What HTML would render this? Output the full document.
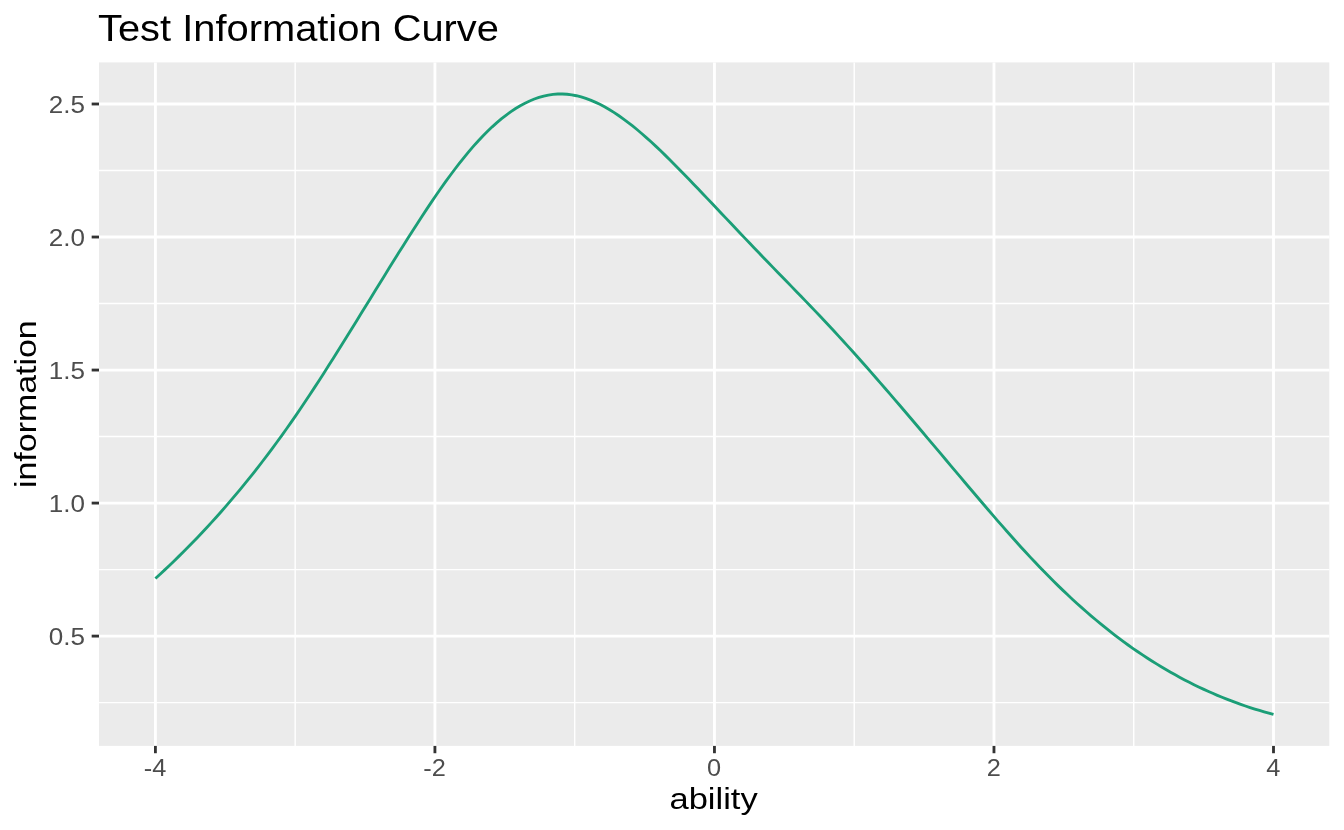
<!DOCTYPE html>
<html><head><meta charset="utf-8"><style>
html,body{margin:0;padding:0;background:#fff;}
body{width:1344px;height:830px;overflow:hidden;}
svg{display:block;will-change:transform;}
text{font-family:"Liberation Sans", sans-serif;}
</style></head><body>
<svg width="1344" height="830" viewBox="0 0 1344 830">
<rect width="1344" height="830" fill="#fff"/>
<rect x="99.0" y="62.4" width="1230.30" height="683.50" fill="#EBEBEB"/>
<line x1="99.0" x2="1329.3" y1="702.61" y2="702.61" stroke="#fff" stroke-width="1.42"/>
<line x1="99.0" x2="1329.3" y1="569.59" y2="569.59" stroke="#fff" stroke-width="1.42"/>
<line x1="99.0" x2="1329.3" y1="436.56" y2="436.56" stroke="#fff" stroke-width="1.42"/>
<line x1="99.0" x2="1329.3" y1="303.54" y2="303.54" stroke="#fff" stroke-width="1.42"/>
<line x1="99.0" x2="1329.3" y1="170.51" y2="170.51" stroke="#fff" stroke-width="1.42"/>
<line y1="62.4" y2="745.9" x1="295.16" x2="295.16" stroke="#fff" stroke-width="1.42"/>
<line y1="62.4" y2="745.9" x1="574.69" x2="574.69" stroke="#fff" stroke-width="1.42"/>
<line y1="62.4" y2="745.9" x1="854.21" x2="854.21" stroke="#fff" stroke-width="1.42"/>
<line y1="62.4" y2="745.9" x1="1133.74" x2="1133.74" stroke="#fff" stroke-width="1.42"/>
<line x1="99.0" x2="1329.3" y1="636.10" y2="636.10" stroke="#fff" stroke-width="2.84"/>
<line x1="99.0" x2="1329.3" y1="503.08" y2="503.08" stroke="#fff" stroke-width="2.84"/>
<line x1="99.0" x2="1329.3" y1="370.05" y2="370.05" stroke="#fff" stroke-width="2.84"/>
<line x1="99.0" x2="1329.3" y1="237.03" y2="237.03" stroke="#fff" stroke-width="2.84"/>
<line x1="99.0" x2="1329.3" y1="104.00" y2="104.00" stroke="#fff" stroke-width="2.84"/>
<line y1="62.4" y2="745.9" x1="155.40" x2="155.40" stroke="#fff" stroke-width="2.84"/>
<line y1="62.4" y2="745.9" x1="434.92" x2="434.92" stroke="#fff" stroke-width="2.84"/>
<line y1="62.4" y2="745.9" x1="714.45" x2="714.45" stroke="#fff" stroke-width="2.84"/>
<line y1="62.4" y2="745.9" x1="993.97" x2="993.97" stroke="#fff" stroke-width="2.84"/>
<line y1="62.4" y2="745.9" x1="1273.50" x2="1273.50" stroke="#fff" stroke-width="2.84"/>
<path d="M155.40,578.52 L160.08,574.23 L164.76,569.87 L169.43,565.44 L174.11,560.94 L178.79,556.38 L183.47,551.74 L188.15,547.03 L192.83,542.25 L197.50,537.40 L202.18,532.46 L206.86,527.46 L211.54,522.37 L216.22,517.20 L220.90,511.95 L225.57,506.61 L230.25,501.19 L234.93,495.68 L239.61,490.09 L244.29,484.41 L248.96,478.63 L253.64,472.77 L258.32,466.81 L263.00,460.75 L267.68,454.60 L272.36,448.35 L277.03,442.01 L281.71,435.56 L286.39,429.01 L291.07,422.35 L295.75,415.59 L300.43,408.73 L305.10,401.78 L309.78,394.74 L314.46,387.61 L319.14,380.42 L323.82,373.15 L328.49,365.82 L333.17,358.44 L337.85,351.00 L342.53,343.53 L347.21,336.01 L351.89,328.47 L356.56,320.91 L361.24,313.33 L365.92,305.73 L370.60,298.14 L375.28,290.54 L379.96,282.96 L384.63,275.39 L389.31,267.85 L393.99,260.33 L398.67,252.84 L403.35,245.40 L408.03,238.01 L412.70,230.67 L417.38,223.40 L422.06,216.21 L426.74,209.11 L431.42,202.12 L436.09,195.25 L440.77,188.51 L445.45,181.92 L450.13,175.49 L454.81,169.23 L459.49,163.15 L464.16,157.27 L468.84,151.60 L473.52,146.15 L478.20,140.95 L482.88,135.98 L487.56,131.27 L492.23,126.82 L496.91,122.62 L501.59,118.69 L506.27,115.04 L510.95,111.65 L515.62,108.55 L520.30,105.73 L524.98,103.20 L529.66,100.97 L534.34,99.03 L539.02,97.40 L543.69,96.08 L548.37,95.07 L553.05,94.38 L557.73,94.01 L562.41,93.97 L567.09,94.25 L571.76,94.85 L576.44,95.74 L581.12,96.93 L585.80,98.39 L590.48,100.12 L595.15,102.11 L599.83,104.34 L604.51,106.81 L609.19,109.51 L613.87,112.41 L618.55,115.52 L623.22,118.82 L627.90,122.31 L632.58,125.96 L637.26,129.77 L641.94,133.73 L646.62,137.82 L651.29,142.04 L655.97,146.38 L660.65,150.82 L665.33,155.36 L670.01,159.97 L674.68,164.66 L679.36,169.41 L684.04,174.21 L688.72,179.04 L693.40,183.91 L698.08,188.79 L702.75,193.70 L707.43,198.62 L712.11,203.55 L716.79,208.49 L721.47,213.43 L726.15,218.38 L730.82,223.33 L735.50,228.27 L740.18,233.21 L744.86,238.14 L749.54,243.05 L754.22,247.95 L758.89,252.84 L763.57,257.70 L768.25,262.54 L772.93,267.37 L777.61,272.19 L782.28,277.00 L786.96,281.81 L791.64,286.62 L796.32,291.44 L801.00,296.27 L805.68,301.12 L810.35,305.99 L815.03,310.88 L819.71,315.80 L824.39,320.75 L829.07,325.74 L833.75,330.78 L838.42,335.85 L843.10,340.96 L847.78,346.11 L852.46,351.30 L857.14,356.52 L861.81,361.77 L866.49,367.06 L871.17,372.37 L875.85,377.71 L880.53,383.08 L885.21,388.47 L889.88,393.89 L894.56,399.32 L899.24,404.78 L903.92,410.25 L908.60,415.74 L913.28,421.24 L917.95,426.75 L922.63,432.28 L927.31,437.81 L931.99,443.35 L936.67,448.90 L941.34,454.45 L946.02,460.00 L950.70,465.56 L955.38,471.11 L960.06,476.66 L964.74,482.21 L969.41,487.74 L974.09,493.27 L978.77,498.78 L983.45,504.27 L988.13,509.74 L992.81,515.17 L997.48,520.58 L1002.16,525.94 L1006.84,531.27 L1011.52,536.54 L1016.20,541.77 L1020.87,546.95 L1025.55,552.06 L1030.23,557.11 L1034.91,562.09 L1039.59,567.01 L1044.27,571.84 L1048.94,576.60 L1053.62,581.28 L1058.30,585.88 L1062.98,590.39 L1067.66,594.83 L1072.34,599.19 L1077.01,603.47 L1081.69,607.67 L1086.37,611.79 L1091.05,615.83 L1095.73,619.79 L1100.41,623.67 L1105.08,627.47 L1109.76,631.18 L1114.44,634.81 L1119.12,638.37 L1123.80,641.84 L1128.47,645.23 L1133.15,648.54 L1137.83,651.77 L1142.51,654.92 L1147.19,658.00 L1151.87,661.00 L1156.54,663.92 L1161.22,666.76 L1165.90,669.54 L1170.58,672.23 L1175.26,674.86 L1179.94,677.41 L1184.61,679.89 L1189.29,682.31 L1193.97,684.65 L1198.65,686.92 L1203.33,689.12 L1208.00,691.25 L1212.68,693.32 L1217.36,695.32 L1222.04,697.26 L1226.72,699.13 L1231.40,700.94 L1236.07,702.68 L1240.75,704.36 L1245.43,705.98 L1250.11,707.54 L1254.79,709.04 L1259.47,710.47 L1264.14,711.85 L1268.82,713.18 L1273.50,714.44" fill="none" stroke="#1B9E77" stroke-width="2.84" stroke-linejoin="round"/>
<line x1="91.67" x2="99.0" y1="636.10" y2="636.10" stroke="#333333" stroke-width="2.84"/>
<line x1="91.67" x2="99.0" y1="503.08" y2="503.08" stroke="#333333" stroke-width="2.84"/>
<line x1="91.67" x2="99.0" y1="370.05" y2="370.05" stroke="#333333" stroke-width="2.84"/>
<line x1="91.67" x2="99.0" y1="237.03" y2="237.03" stroke="#333333" stroke-width="2.84"/>
<line x1="91.67" x2="99.0" y1="104.00" y2="104.00" stroke="#333333" stroke-width="2.84"/>
<line y1="745.9" y2="753.23" x1="155.40" x2="155.40" stroke="#333333" stroke-width="2.84"/>
<line y1="745.9" y2="753.23" x1="434.92" x2="434.92" stroke="#333333" stroke-width="2.84"/>
<line y1="745.9" y2="753.23" x1="714.45" x2="714.45" stroke="#333333" stroke-width="2.84"/>
<line y1="745.9" y2="753.23" x1="993.97" x2="993.97" stroke="#333333" stroke-width="2.84"/>
<line y1="745.9" y2="753.23" x1="1273.50" x2="1273.50" stroke="#333333" stroke-width="2.84"/>
<text x="0" y="0" font-size="23.47" fill="#4D4D4D" text-anchor="end" transform="translate(85.00,645.30) scale(1.1100,1)">0.5</text>
<text x="0" y="0" font-size="23.47" fill="#4D4D4D" text-anchor="end" transform="translate(85.00,512.28) scale(1.1100,1)">1.0</text>
<text x="0" y="0" font-size="23.47" fill="#4D4D4D" text-anchor="end" transform="translate(85.00,379.25) scale(1.1100,1)">1.5</text>
<text x="0" y="0" font-size="23.47" fill="#4D4D4D" text-anchor="end" transform="translate(85.00,246.22) scale(1.1100,1)">2.0</text>
<text x="0" y="0" font-size="23.47" fill="#4D4D4D" text-anchor="end" transform="translate(85.00,113.20) scale(1.1100,1)">2.5</text>
<text x="0" y="0" font-size="23.47" fill="#4D4D4D" text-anchor="middle" transform="translate(155.10,775.80) scale(1.0800,1)">-4</text>
<text x="0" y="0" font-size="23.47" fill="#4D4D4D" text-anchor="middle" transform="translate(434.62,775.80) scale(1.0800,1)">-2</text>
<text x="0" y="0" font-size="23.47" fill="#4D4D4D" text-anchor="middle" transform="translate(714.15,775.80) scale(1.0800,1)">0</text>
<text x="0" y="0" font-size="23.47" fill="#4D4D4D" text-anchor="middle" transform="translate(993.67,775.80) scale(1.0800,1)">2</text>
<text x="0" y="0" font-size="23.47" fill="#4D4D4D" text-anchor="middle" transform="translate(1273.20,775.80) scale(1.0800,1)">4</text>
<text x="0" y="0" font-size="37.1" fill="#000" text-anchor="start" transform="translate(98.00,41.25) scale(1.0746,1)">Test Information Curve</text>
<text x="0" y="0" font-size="30.0" fill="#000" text-anchor="middle" transform="translate(713.60,808.70) scale(1.1500,1)">ability</text>
<text x="0" y="0" font-size="30.0" fill="#000" text-anchor="middle" transform="translate(35.80,404.20) rotate(-90) scale(1.1300,1)">information</text>
</svg>
</body></html>
